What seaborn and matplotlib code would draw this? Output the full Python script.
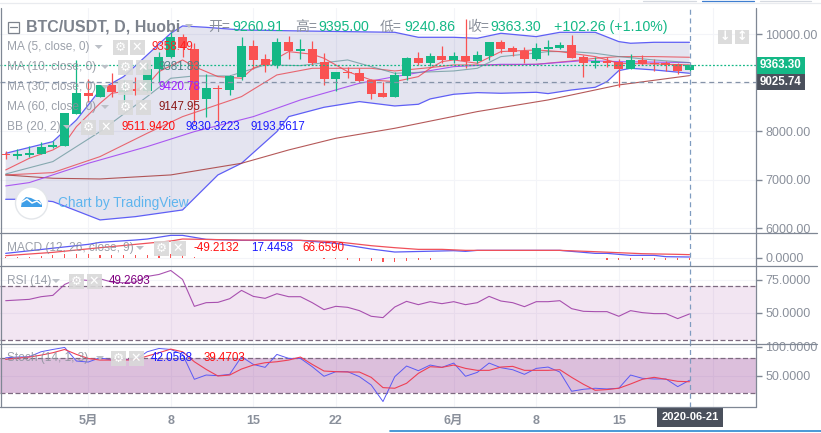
import matplotlib
matplotlib.use("Agg")
import matplotlib.pyplot as plt
import seaborn as sns
import numpy as np
from matplotlib.patches import Rectangle, Circle, Polygon

sns.set_theme(style="white")
FONT = ['Liberation Sans', 'Noto Sans CJK SC', 'DejaVu Sans']
plt.rcParams['font.family'] = FONT

# ---- data -------------------------------------------------------------
opens = [7533,7498,7512,7540,7670,7704,8364,8784,8715,8955,8818,8852,8838,9278,9526,9938,9691,8660,8900,8859,9127,9760,9491,9368,9842,9663,9698,9436,9086,9230,9203,9058,8784,8715,9141,9505,9402,9553,9471,9553,9450,9560,9842,9718,9650,9491,9705,9711,9773,9533,9416,9450,9436,9285,9464,9409,9402,9381,9260.91]
closes = [7505,7526,7546,7670,7718,8371,8784,8722,8949,8818,8852,8838,9285,9526,9938,9725,8646,8887,8866,9134,9760,9478,9368,9842,9663,9698,9416,9086,9223,9196,9038,8770,8715,9162,9512,9402,9553,9471,9553,9450,9567,9842,9698,9643,9498,9718,9739,9773,9519,9409,9457,9416,9292,9464,9395,9381,9375,9244,9363.30]
highs = [7601,7636,7704,7787,7808,8385,9471,9072,8955,9196,9058,9113,9402,9643,10055,10007,9815,9182,8955,9162,9938,9883,9595,9918,9966,9904,9863,9608,9223,9333,9299,9072,9024,9230,9540,9636,9608,9760,9636,10309,9656,9842,9883,9760,9746,9815,9883,9835,9986,9574,9526,9526,9485,9595,9574,9485,9450,9402,9395]
lows = [7423,7423,7478,7526,7650,7698,8357,8612,8701,8715,8543,8749,8818,9024,9505,9526,8179,8289,8220,8749,9058,9278,9230,9299,9491,9491,9368,8955,8838,9107,9024,8667,8715,8701,9058,9368,9354,9416,9416,9299,9409,9471,9622,9560,9416,9471,9574,9691,9505,9120,9313,9333,8921,9285,9368,9251,9251,9189,9240.86]

bb_up_x = [0,4,6,8,10,12,14,15,17,20,25,33,35,38,40,42,45,47,50,52,53,55,58]
bb_up = [7546,7787,8234,8852,9127,9574,10021,10172,10144,10089,10069,10041,9938,9938,9918,10021,9952,10041,10041,9849,9815,9835,9835]
bb_lo_x = [0,2,4,8,11,15,18,20,23,24,27,30,33,35,36,38,40,42,45,46,48,50,51,52,53,55,58]
bb_lo = [6598,6598,6550,6172,6240,6378,7100,7340,7993,8302,8495,8612,8522,8557,8667,8763,8797,8784,8804,8777,8852,8907,9024,9251,9299,9265,9196]
bb_mid_x = [0,4,8,12,15,20,23,26,31,33,36,38,42,45,48,50,52,55,58]
bb_mid = [7100,7148,7478,7959,8302,8715,9162,9299,9299,9244,9313,9368,9368,9381,9450,9505,9540,9540,9526]
ma5_x = [0,2,4,5,6,8,9,11,12,13,15,16,18,20,21,23,24,26,27,29,31,33,35,36,37,38,40,42,45,47,48,50,52,55,58]
ma5 = [7203,7443,7615,7753,8096,8577,8784,8852,8955,9230,9471,9333,9127,9093,9299,9505,9643,9588,9505,9230,9058,9024,9127,9299,9436,9471,9402,9643,9677,9643,9608,9540,9402,9388,9368]
ma10_x = [0,4,8,12,14,16,19,22,25,29,33,38,40,42,44,46,48,50,52,55,58]
ma10 = [7120,7375,7993,8715,9093,9141,9141,9368,9354,9471,9196,9244,9299,9540,9588,9643,9643,9608,9540,9471,9416]
ma30_x = [0,2,7,12,16,21,25,30,33,38,42,45,49,52,58]
ma30 = [6873,6942,7340,7684,7993,8302,8646,8990,9127,9333,9381,9381,9457,9436,9416]
ma60_x = [0,4,8,14,20,24,28,33,40,46,52,58]
ma60 = [7100,7031,7017,7100,7340,7615,7856,8062,8406,8646,8955,9148]

macd_x = [0,7,8,11,12,14,15,17,20,25,28,31,33,38,39,40,47,50,51,53,55,56,58]
macd = [94,283,325,374,395,472,472,388,367,367,304,185,122,150,136,157,157,94,94,52,52,24,17.45]
signal_x = [0,4,8,14,15,20,25,28,31,33,35,37,39,47,50,52,54,57,58]
signal = [45,115,213,353,395,374,367,339,255,213,178,178,157,157,129,108,87,73,66.66]
hist = [8,20,25,35,60,85,85,80,60,55,50,50,55,70,80,60,20,2,-7,-7,2,-7,-7,2,2,-7,-5,-15,-30,-40,-60,-70,-85,-90,-70,-40,-40,-10,-5,-5,-7,2,2,2,2,-7,2,2,2,-7,-7,-40,-40,-50,-50,-50,-50,-50,-49.21]

rsi = [59.25,59.75,60.25,62.25,63.25,71.5,75.25,74.5,75.75,73.25,72.75,73.25,77.5,79,82,75.25,55,57.75,58,60.75,67,62.5,61,64.5,62.25,62.25,57.75,52.5,55,54.25,51.75,47.5,46.5,54.5,58.75,56.25,58.5,57,58.5,56.25,57.75,62.5,59,57.75,54.75,58.5,58.5,59.25,53.25,51.25,51,51,47.5,51.75,50.25,49.5,49.5,45.75,49.27]
stoch_k = [81,82.2,82.8,91.4,95.4,98.9,75.3,73.6,81,77,78.2,77,91.4,97.1,95.4,86.8,43.7,51.1,50,52.3,82.8,69.5,64.4,86.8,79.9,79.9,65.5,48.9,56.9,56.9,48.3,33.9,5.2,48.3,66.7,58.6,68.4,64.4,71.8,48.9,55.7,71.8,63.8,60.3,52.3,62.6,64.9,56.3,23,26.4,28.2,27,28.2,51.1,45.4,44.3,44.3,31,42.06]
stoch_d = [78.2,80.5,82.2,85.6,89.7,95.4,86.8,79.9,77,77,77,77.6,83.9,89.7,96,91.4,74.1,60.9,49.4,51.1,61.5,68.4,72.4,74.1,77,82.2,69.5,58,56.9,56.3,56.3,47.1,29.3,28.2,36.8,54,65.5,64.4,68.4,62.6,59.2,59.2,64.9,66.1,59.2,59.2,59.2,60.3,47.1,35.1,24.7,25.9,28.2,35.6,43.7,47.1,43.7,40.2,39.47]
days = list(range(len(opens)))

week_ticks = [7,14,21,28,38,45,52]
week_labels = ['5月','8','15','22','6月','8','15']
last_close = 9363.30
prev_level = 9025.74

# ---- layout -----------------------------------------------------------
W, H = 821, 433
GREEN, RED = '#14b886', '#fa5252'
GRAY, AXC = '#8a909b', '#7f8794'
GRID = '#f3f4f8'
XH = '#7f9cc0'
fig = plt.figure(figsize=(W/100, H/100), dpi=100, facecolor='white')

X_R = 755.7
xlim = ((0-5.7)/11.79, (X_R-5.7)/11.79)

def pane(top, bot, ylim):
    ax = fig.add_axes([0, 1-bot/H, X_R/W, (bot-top)/H])
    ax.set_xlim(*xlim); ax.set_ylim(*ylim)
    ax.set_facecolor('white')
    for s in ax.spines.values():
        s.set_visible(False)
    ax.yaxis.tick_right()
    ax.tick_params(axis='y', length=4, width=1, color=AXC, labelcolor=GRAY, labelsize=9.0, pad=3)
    ax.set_xticks(week_ticks + [60]); ax.set_xticklabels([]); ax.tick_params(axis='x', length=0)
    ax.grid(True, color=GRID, lw=0.8); ax.set_axisbelow(True)
    ax.axvline(58, color=XH, lw=0.9, dashes=(4, 3), zorder=6)
    return ax

main = pane(8, 232.5, (5913, 10542))
pm = pane(232.5, 265.5, (-161, 532))
pr = pane(265.5, 343.5, (27, 85.75))
ps = pane(343.5, 406.5, (-3.4, 105.7))

def line(ax, x, y, c, lw=1.0, a=1.0):
    sns.lineplot(x=x, y=y, ax=ax, color=c, linewidth=lw, alpha=a, legend=False, errorbar=None, zorder=3)
    ax.set_xlim(*xlim); ax.set_xlabel(''); ax.set_ylabel('')

# main pane
main.fill(bb_up_x + bb_lo_x[::-1], bb_up + bb_lo[::-1], color='#2a2a8a', alpha=0.125, lw=0, zorder=1)
line(main, bb_up_x, bb_up, '#5f5ff5', 0.9)
line(main, bb_lo_x, bb_lo, '#5f5ff5', 0.9)
line(main, bb_mid_x, bb_mid, '#e8505a', 0.8, 0.85)
line(main, ma60_x, ma60, '#a83c3c', 0.8, 0.85)
line(main, ma30_x, ma30, '#a040f0', 0.8, 0.85)
line(main, ma10_x, ma10, '#5f9095', 0.8, 0.7)
line(main, ma5_x, ma5, '#ee4a55', 0.8, 0.85)
cols = [GREEN if c >= o else RED for o, c in zip(opens, closes)]
main.vlines(days, lows, highs, colors=cols, lw=0.9, zorder=4)
bott = [min(o, c) for o, c in zip(opens, closes)]
hts = [max(abs(c-o), 25) for o, c in zip(opens, closes)]
main.bar(days, hts, bottom=bott, width=0.76, color=cols, lw=0, zorder=5)
main.axhline(last_close, color=GREEN, lw=0.9, dashes=(1.5, 1.5), zorder=6)
main.axhline(prev_level, color='#8593a8', lw=0.9, dashes=(4, 3), zorder=6)
main.set_yticks([6000, 7000, 8000, 9000, 10000])
main.set_yticklabels(['6000.00', '7000.00', '8000.00', '', '10000.00'])

# MACD
pm.bar(days, hist, width=0.09, color=RED, lw=0, zorder=2)
line(pm, macd_x, macd, '#5a5af5', 0.9)
line(pm, signal_x, signal, '#f0505a', 0.9)
pm.set_yticks([0]); pm.set_yticklabels(['0.0000'])

# RSI
pr.axhspan(30, 70, color='#9b2b9b', alpha=0.12, lw=0, zorder=1)
pr.hlines([30, 70], xlim[0], xlim[1], color='#7d6a80', lw=0.9, linestyles=(0, (4, 2)), zorder=2)
line(pr, days, rsi, '#a040a8', 0.8, 0.9)
pr.set_yticks([50, 75]); pr.set_yticklabels(['50.0000', '75.0000'])

# Stoch
ps.axhspan(20, 80, color='#8e2c8e', alpha=0.30, lw=0, zorder=1)
ps.hlines([20, 80], xlim[0], xlim[1], color='#7d6a80', lw=0.9, linestyles=(0, (4, 2)), zorder=2)
line(ps, days, stoch_k, '#5a5af5', 0.7)
line(ps, days, stoch_d, '#ee4055', 0.8)
ps.set_yticks([50, 100]); ps.set_yticklabels(['50.0000', '100.0000'])
ps.set_xticks(week_ticks + [60]); ps.set_xticklabels(week_labels + [''])
ps.tick_params(axis='x', length=3, width=1, color=AXC, labelcolor=GRAY, labelsize=9, pad=3)
for t in ps.get_xticklabels():
    t.set_fontweight('bold')

# overlay in pixel coordinates
ov = fig.add_axes([0, 0, 1, 1], zorder=20)
ov.set_xlim(0, W); ov.set_ylim(H, 0); ov.axis('off'); ov.patch.set_alpha(0)

for y in (232.5, 265.5, 343.5):
    ov.plot([0, 817], [y, y], color=AXC, lw=0.9)
ov.plot([0, X_R], [406.5, 406.5], color=AXC, lw=0.9)
ov.plot([X_R, X_R], [8, 406.5], color=AXC, lw=0.9)
ov.plot([0.5, 0.5], [8, 406.5], color=AXC, lw=0.9)
ov.plot([0, 821], [3, 3], color='#e9ebef', lw=0.9)
for a, b, c in [(643, 696, '#d5d9e0'), (702, 754, '#3f7ed0'), (760, 811, '#d5d9e0')]:
    ov.plot([a, b], [1, 1], color=c, lw=0.9)
ov.plot([390, 821], [431, 431], color='#2a87d0', lw=1.2)

def T(x, y, s, c=GRAY, size=8.4, w='normal', ha='left', **k):
    ov.text(x, y, s, color=c, fontsize=size, fontweight=w, ha=ha, va='center', family=FONT, **k)

def btn(x, y, glyph, s=15):
    ov.add_patch(Rectangle((x-s/2, y-s/2), s, s, color='#d9d9d9', alpha=0.9, lw=0))
    ov.text(x, y, glyph, color='white', fontsize=9, ha='center', va='center',
            family=['DejaVu Sans'], fontweight='bold')

def arrow(x, y):
    ov.add_patch(Polygon([(x-4, y-2), (x+4, y-2), (x, y+2)], color='#bcc0c7', lw=0))

# title row
ov.add_patch(Rectangle((7.5, 21.5), 11, 11, fill=False, ec='#7d838d', lw=0.9))
ov.plot([10, 16.5], [27, 27], color='#7d838d', lw=0.9)
T(26, 27, 'BTC/USDT, D, Huobi', '#7d838d', 11.5, 'bold')
arrow(189, 26)
for x, s in [(208, '开='), (295, '高='), (380, '低='), (467, '收=')]:
    T(x, 27, s, GRAY, 10)
for x, s in [(232, '9260.91'), (318, '9395.00'), (404, '9240.86'), (490.7, '9363.30'), (554, '+102.26 (+1.10%)')]:
    T(x, 27, s, GREEN, 10.2)

# study legends
rows = [
    (47, 'MA (5, close, 0)', 98.7, 120, 137),
    (67, 'MA (10, close, 0)', 105, 125, 143),
    (87, 'MA (30, close, 0)', 105, 125, 143),
    (107, 'MA (60, close, 0)', 105, 125, 143),
    (127, 'BB (20, 2)', 67, 88, 106),
    (248, 'MACD (12, 26, close, 9)', 140, 161, 178),
    (281, 'RSI (14)', 56, 76, 94),
    (358, 'Stoch (14, 1, 3)', 100, 118, 136),
]
for y, s, ax_, g, xb in rows:
    T(7, y, s, GRAY, 8.6, alpha=0.85)
    arrow(ax_, y)
    btn(g, y, '⚙')
    btn(xb, y, '✕')
for x, y, s, c in [
    (152, 47, '9358.49', '#ff2020'), (158.7, 67, '9381.83', '#4f7f85'),
    (158.7, 87, '9420.78', '#9b1fff'), (158.7, 107, '9147.95', '#8b1a1a'),
    (121, 127, '9511.9420', '#ff1010'), (186, 127, '9830.3223', '#1a1aff'), (250.7, 127, '9193.5617', '#1a1aff'),
    (194, 248, '-49.2132', '#ff1010'), (250.7, 248, '17.4458', '#1a1aff'), (302, 248, '66.6590', '#ff1010'),
    (109, 281, '49.2693', '#800080'),
    (151, 358, '42.0568', '#1a1aff'), (203.6, 358, '39.4703', '#ff1010')]:
    T(x, y, s, c, 8.4)

# watermark
ov.add_patch(Circle((31.5, 203), 16, fc='white', ec='#e3e6ea', lw=1))
ov.add_patch(Polygon([(21, 207), (22, 201), (26, 197), (31, 198), (35, 200), (39, 200), (42, 204), (42, 207)],
                     color='#3f9fe8', lw=0))
ov.plot([22, 27, 32, 37, 41], [202, 199, 203, 201, 204], color='white', lw=1.1)
T(58, 203, 'Chart by TradingView', '#5fb5ee', 9.8)

# right-hand tags
ov.add_patch(Rectangle((X_R, 57.3), 49.7, 16.2, color=GREEN, lw=0))
ov.add_patch(Rectangle((X_R, 73.5), 49.7, 16.2, color='#4a505c', lw=0))
T(780.5, 65.4, '9363.30', 'white', 8.3, 'bold', ha='center')
T(780.5, 81.6, '9025.74', 'white', 8.3, 'bold', ha='center')
ov.add_patch(Rectangle((657, 406.7), 65.7, 20.6, color='#4a505c', lw=0))
T(689.8, 417, '2020-06-21', 'white', 8, 'bold', ha='center')
btn(725, 36.7, '↓', 14)
btn(742, 36.7, '↕', 14)

fig.savefig('out.png', dpi=100, facecolor='white')
